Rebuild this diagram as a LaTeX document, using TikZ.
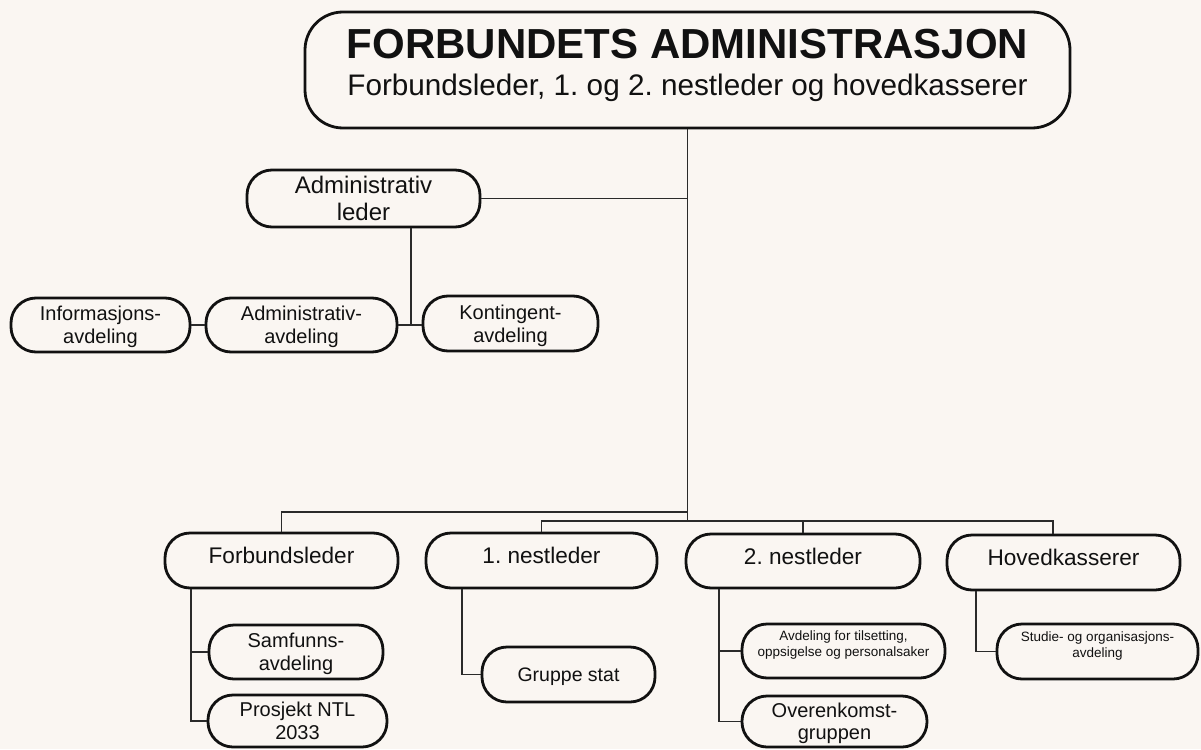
\documentclass[tikz,border=0pt]{standalone}
\usepackage{fontspec}
\setmainfont{Liberation Sans}
\usetikzlibrary{calc}
\definecolor{bg}{HTML}{FAF6F2}
\definecolor{ink}{HTML}{111111}
\definecolor{wirec}{HTML}{2A2A2A}
\frenchspacing
% #1 raise, #2 font size, #3 line spacing, #4 lines
\newcommand{\bt}[4]{\raisebox{#1}[\height][\depth]{\fontsize{#2}{#3}\selectfont\begin{tabular}{@{}c@{}}#4\end{tabular}}}
\begin{document}
\begin{tikzpicture}[x=1pt,y=-1pt,
  pill/.style={draw=ink, line width=2.8pt, fill=bg, rounded corners=25pt, inner sep=0pt, text=ink},
  wire/.style={draw=wirec, line width=1.9pt}]
\fill[bg] (0,0) rectangle (1201,749);
\useasboundingbox (0,0) rectangle (1201,749);

% top
\node[pill, rounded corners=38pt, minimum width=765pt, minimum height=116pt] (top) at (687.5,70)
  {\bt{2pt}{29.7}{37}{{\fontsize{42}{37}\selectfont\bfseries FORBUNDETS ADMINISTRASJON}\\Forbundsleder, 1.\ og 2.\ nestleder og hovedkasserer}};

% administrative branch
\node[pill, minimum width=233pt, minimum height=57pt] (al) at (363.5,198.5) {\bt{-3pt}{24}{27}{Administrativ\\leder}};
\node[pill, minimum width=179pt, minimum height=54pt] (ia) at (100.5,325) {\bt{-2.5pt}{20}{23}{Informasjons-\\avdeling}};
\node[pill, minimum width=191pt, minimum height=54pt] (aa) at (301.5,325) {\bt{-2.5pt}{20}{23}{Administrativ-\\avdeling}};
\node[pill, minimum width=175pt, minimum height=55pt] (ka) at (510.5,323.5) {\bt{-2.5pt}{20}{23}{Kontingent-\\avdeling}};

% leaders
\node[pill, minimum width=233pt, minimum height=55pt] (fl) at (281.5,560.5) {\bt{2pt}{22.6}{26}{Forbundsleder}};
\node[pill, minimum width=231pt, minimum height=55pt] (n1) at (541.5,560.5) {\bt{2pt}{22.6}{26}{1.\ nestleder}};
\node[pill, minimum width=234pt, minimum height=54pt] (n2) at (803,561) {\bt{2pt}{22.6}{26}{2.\ nestleder}};
\node[pill, minimum width=233pt, minimum height=55pt] (hk) at (1063.5,562.5) {\bt{2pt}{22.6}{26}{Hovedkasserer}};

% departments
\node[pill, minimum width=174pt, minimum height=54pt] (sa) at (296,652) {\bt{-2.5pt}{20}{23}{Samfunns-\\avdeling}};
\node[pill, minimum width=179pt, minimum height=52pt] (pn) at (297.5,721) {\bt{-2.5pt}{20}{23}{Prosjekt NTL\\2033}};
\node[pill, minimum width=173pt, minimum height=55pt] (gs) at (568.5,674.5) {\bt{-2.4pt}{19.5}{23}{Gruppe stat}};
\node[pill, minimum width=203pt, minimum height=54pt] (av) at (843.5,651) {\bt{5.4pt}{13.5}{16}{Avdeling for tilsetting,\\oppsigelse og personalsaker}};
\node[pill, minimum width=185pt, minimum height=51pt] (ok) at (834.5,721.5) {\bt{-2.5pt}{20}{22}{Overenkomst-\\gruppen}};
\node[pill, minimum width=201pt, minimum height=55pt] (st) at (1097.5,651.5) {\bt{5.4pt}{13.5}{16}{Studie- og organisasjons-\\avdeling}};

% connectors
\coordinate (j1) at (687.5,512);
\coordinate (j2) at (687.5,521);
\draw[wire] (top.south) -- (j2);
\draw[wire] (al.east) -- (al.east -| top.south);
\draw[wire] ([xshift=47.5pt]al.south) -- ([xshift=47.5pt]al.south |- aa.east);
\draw[wire] (aa.east) -- (aa.east -| ka.west);
\draw[wire] (ia.east) -- (aa.west);
\draw[wire] (fl.north) |- (j1);
\draw[wire] (n1.north) |- (j2) -| (n2.north);
\draw[wire] (j2) -| ([xshift=-10.5pt]hk.north);
\draw[wire] ([xshift=-90.5pt]fl.south) |- (sa.west);
\draw[wire] ([xshift=-90.5pt]fl.south) |- (pn.west);
\draw[wire] ([xshift=-79.5pt]n1.south) |- (gs.west);
\draw[wire] ([xshift=-84pt]n2.south) |- (av.west);
\draw[wire] ([xshift=-84pt]n2.south) |- (ok.west);
\draw[wire] ([xshift=-87.5pt]hk.south) |- (st.west);
\end{tikzpicture}
\end{document}
